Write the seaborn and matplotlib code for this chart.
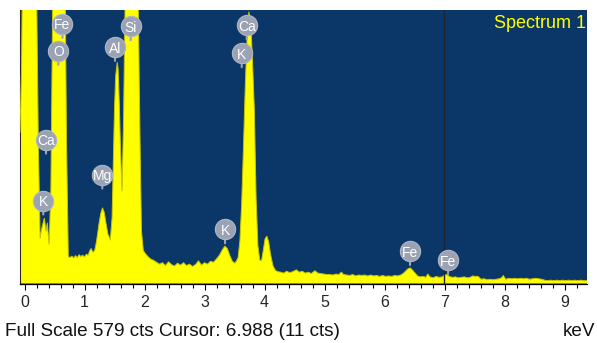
import matplotlib
matplotlib.use("Agg")
import matplotlib.pyplot as plt
import matplotlib.transforms as mtransforms
from matplotlib.ticker import MultipleLocator
import pandas as pd
import seaborn as sns

# EDS spectrum: energy (keV) and counts
energy_kev = [
    -0.075, -0.05, -0.03, 0.00, 0.10, 0.18, 0.20, 0.23, 0.26, 0.29, 0.33, 0.36, 0.38, 0.41,
    0.44, 0.47, 0.50, 0.56, 0.62, 0.66, 0.68, 0.70, 0.73, 0.76, 0.79, 0.82, 0.85, 0.88,
    0.91, 0.94, 0.97, 1.00, 1.03, 1.06, 1.09, 1.11, 1.14, 1.17, 1.20, 1.24, 1.27, 1.30,
    1.33, 1.36, 1.39, 1.43, 1.46, 1.48, 1.50, 1.52, 1.545, 1.56, 1.58, 1.60, 1.625, 1.65,
    1.68, 1.72, 1.77, 1.83, 1.87, 1.89, 1.91, 1.93, 1.95, 1.98, 2.01,
    2.05, 2.10, 2.15, 2.20, 2.25, 2.30, 2.35, 2.40, 2.45, 2.50, 2.55, 2.60, 2.65, 2.70,
    2.75, 2.80, 2.85, 2.90, 2.95, 3.00, 3.05, 3.10, 3.15, 3.20, 3.25, 3.30, 3.34, 3.38,
    3.42, 3.46, 3.50, 3.53, 3.56, 3.59, 3.62, 3.65, 3.68, 3.71, 3.74, 3.77, 3.80, 3.83,
    3.86, 3.89, 3.92, 3.95, 3.98, 4.01, 4.04, 4.07, 4.10, 4.14, 4.18, 4.22,
    4.27, 4.32, 4.37, 4.42, 4.47, 4.53, 4.58, 4.63, 4.68, 4.73, 4.78, 4.84, 4.89, 4.94,
    4.99, 5.04, 5.09, 5.14, 5.19, 5.24, 5.28, 5.32, 5.37, 5.42, 5.47, 5.52, 5.57, 5.62,
    5.67, 5.72, 5.77, 5.82, 5.87, 5.92, 5.97, 6.02, 6.07, 6.12, 6.17, 6.22, 6.27, 6.31,
    6.35, 6.39, 6.43, 6.47, 6.51, 6.55, 6.60, 6.65, 6.69, 6.72, 6.76, 6.81, 6.86, 6.91,
    6.96, 7.00, 7.04, 7.08, 7.13, 7.18, 7.23, 7.28, 7.33, 7.38, 7.43, 7.47, 7.51, 7.56,
    7.61, 7.66, 7.71, 7.76, 7.81, 7.86, 7.91, 7.95, 7.98, 8.02, 8.07, 8.12, 8.17, 8.22,
    8.27, 8.32, 8.37, 8.42, 8.47, 8.52, 8.57, 8.62, 8.67, 8.72, 8.77, 8.82, 8.87, 8.92,
    8.97, 9.02, 9.07, 9.12, 9.17, 9.22, 9.27, 9.32, 9.375,
]
counts = [
    320, 450, 700, 1200, 1500, 1100, 640, 300, 96, 118, 138, 111, 128, 83,
    200, 600, 900, 1200, 1100, 800, 600, 300, 57, 55, 58, 54, 59, 55,
    61, 57, 60, 56, 62, 60, 70, 74, 66, 70, 89, 125, 148, 160,
    150, 126, 105, 92, 140, 260, 370, 440, 468, 455, 380, 285, 196, 340,
    620, 1000, 1150, 1000, 780, 640, 450, 260, 110, 70, 64,
    58, 52, 49, 45, 41, 44, 38, 46, 40, 37, 43, 39, 44, 38,
    41, 36, 40, 48, 39, 44, 41, 47, 45, 52, 60, 72, 79, 74,
    60, 48, 43, 47, 55, 90, 170, 290, 420, 520, 575, 555, 470, 370,
    180, 80, 50, 48, 70, 95, 100, 88, 62, 38, 28, 25,
    24, 22, 26, 23, 25, 29, 24, 26, 22, 24, 21, 27, 22, 21,
    20, 19, 19, 18, 20, 19, 24, 19, 18, 17, 19, 16, 18, 17,
    18, 16, 18, 16, 17, 15, 17, 15, 16, 15, 17, 16, 18, 21,
    26, 31, 33, 28, 22, 16, 14, 15, 13, 20, 14, 12, 15, 13,
    14, 18, 19, 15, 13, 14, 12, 13, 14, 12, 13, 16, 15, 15,
    9, 10, 8, 9, 8, 9, 10, 12, 17, 9, 11, 10, 11, 10,
    11, 10, 11, 9, 10, 11, 10, 9, 7, 6, 7, 6, 7, 6,
    7, 6, 7, 6, 7, 6, 7, 6, 6,
]

# peak labels: element, energy and count where the label stem ends
label_elements = ["Fe", "O", "Ca", "K", "Mg", "Al", "Si", "Ca", "K", "K", "Fe", "Fe"]
label_kev = [0.633, 0.563, 0.358, 0.313, 1.297, 1.508, 1.770, 3.703, 3.620, 3.342, 6.425, 7.060]
label_counts = [520, 463, 275, 146, 201, 471, 515, 517, 458, 85, 39, 20]

full_scale = 579
cursor_kev = 6.988
cursor_cts = 11
spectrum_name = "Spectrum 1"

df = pd.DataFrame({"keV": energy_kev, "cts": counts})

sns.set_style("ticks")
plt.rcParams["font.family"] = ["Liberation Sans", "DejaVu Sans"]

bg = "#0b3768"
yellow = "#ffff00"
bubble_col = "#9aa2b4"

fig = plt.figure(figsize=(5.97, 3.43), dpi=100)
ax = fig.add_axes([20 / 597, 1 - 283.5 / 343, 567 / 597, 273.5 / 343])
ax.set_facecolor(bg)

ax.fill_between(df["keV"], df["cts"], color=yellow, lw=0, zorder=2)
sns.lineplot(data=df, x="keV", y="cts", color="#c8c400", lw=0.7, ax=ax, zorder=3)

ax.axvline(cursor_kev, color="#1e2530", lw=1.0, zorder=4)

ax.set_xlim(-0.075, 9.375)
ax.set_ylim(0, full_scale)
ax.set_xlabel("")
ax.set_ylabel("")
ax.set_yticks([])
ax.xaxis.set_major_locator(MultipleLocator(1))
ax.xaxis.set_minor_locator(MultipleLocator(0.2))
ax.tick_params(axis="x", which="major", length=4.5, width=0.8, direction="out",
               labelsize=11.5, pad=4, color="black")
ax.tick_params(axis="x", which="minor", length=2.8, width=0.8, direction="out", color="black")
for s in ["top", "right"]:
    ax.spines[s].set_visible(False)
ax.spines["bottom"].set_color("black")
ax.spines["bottom"].set_linewidth(0.9)
ax.spines["left"].set_color("#2a2a2a")
ax.spines["left"].set_linewidth(0.8)

# element labels: grey bubble with a short stem down to the peak
bubble = mtransforms.offset_copy(ax.transData, fig=fig, x=0, y=14, units="dots")
for el, e, c in zip(label_elements, label_kev, label_counts):
    ax.annotate("", xy=(e, c), xytext=(0, 14), textcoords="offset pixels",
                arrowprops=dict(arrowstyle="-", color=bubble_col, lw=1.5,
                                shrinkA=0, shrinkB=0), zorder=5)
    ax.plot(e, c, "o", ms=14.6, color=bubble_col, mec="#b0b6c4", mew=0.8,
            transform=bubble, zorder=6, clip_on=False)
    ax.text(e, c, el, transform=bubble, ha="center", va="center_baseline",
            color="white", fontsize=10, zorder=7)

fig.text(586 / 597, 1 - 24 / 343, spectrum_name, ha="right", va="center",
         color=yellow, fontsize=13)
fig.text(5 / 597, 1 - 331 / 343,
         f"Full Scale {full_scale} cts Cursor: {cursor_kev:.3f} ({cursor_cts} cts)",
         ha="left", va="center", fontsize=13.6, color="#111111")
fig.text(595 / 597, 1 - 331 / 343, "keV", ha="right", va="center", fontsize=13.6, color="#111111")

fig.savefig("out.png", dpi=100)
